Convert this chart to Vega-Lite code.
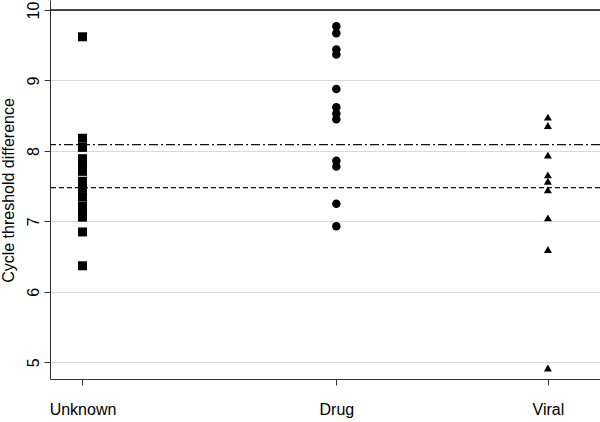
{
  "$schema": "https://vega.github.io/schema/vega-lite/v6.json",
  "width": 550,
  "height": 379,
  "autosize": {"type": "none"},
  "padding": {"left": 50, "top": 0, "right": 0, "bottom": 43},
  "background": "white",
  "config": {"view": {"stroke": null}, "font": "Liberation Sans"},
  "datasets": {
    "points": [
      {"group": "Unknown", "ct_diff": 9.62},
      {"group": "Unknown", "ct_diff": 8.18},
      {"group": "Unknown", "ct_diff": 8.05},
      {"group": "Unknown", "ct_diff": 7.89},
      {"group": "Unknown", "ct_diff": 7.82},
      {"group": "Unknown", "ct_diff": 7.75},
      {"group": "Unknown", "ct_diff": 7.71},
      {"group": "Unknown", "ct_diff": 7.57},
      {"group": "Unknown", "ct_diff": 7.52},
      {"group": "Unknown", "ct_diff": 7.47},
      {"group": "Unknown", "ct_diff": 7.35},
      {"group": "Unknown", "ct_diff": 7.22},
      {"group": "Unknown", "ct_diff": 7.16},
      {"group": "Unknown", "ct_diff": 7.06},
      {"group": "Unknown", "ct_diff": 6.85},
      {"group": "Unknown", "ct_diff": 6.37},
      {"group": "Drug", "ct_diff": 9.77},
      {"group": "Drug", "ct_diff": 9.67},
      {"group": "Drug", "ct_diff": 9.44},
      {"group": "Drug", "ct_diff": 9.37},
      {"group": "Drug", "ct_diff": 8.88},
      {"group": "Drug", "ct_diff": 8.62},
      {"group": "Drug", "ct_diff": 8.53},
      {"group": "Drug", "ct_diff": 8.45},
      {"group": "Drug", "ct_diff": 7.86},
      {"group": "Drug", "ct_diff": 7.78},
      {"group": "Drug", "ct_diff": 7.25},
      {"group": "Drug", "ct_diff": 6.93},
      {"group": "Viral", "ct_diff": 8.48},
      {"group": "Viral", "ct_diff": 8.36},
      {"group": "Viral", "ct_diff": 7.94},
      {"group": "Viral", "ct_diff": 7.66},
      {"group": "Viral", "ct_diff": 7.57},
      {"group": "Viral", "ct_diff": 7.45},
      {"group": "Viral", "ct_diff": 7.05},
      {"group": "Viral", "ct_diff": 6.6},
      {"group": "Viral", "ct_diff": 4.92}
    ],
    "lines": [
      {"line": "upper", "value": 10},
      {"line": "dashdot", "value": 8.09},
      {"line": "dashed", "value": 7.48}
    ]
  },
  "layer": [
    {
      "data": {"name": "lines"},
      "mark": {"type": "rule", "strokeWidth": 1.3, "color": "#111111"},
      "encoding": {
        "y": {
          "field": "value",
          "type": "quantitative",
          "title": "Cycle threshold difference",
          "scale": {"domain": [4.763, 10.142], "nice": false, "zero": false},
          "axis": {
            "values": [5, 6, 7, 8, 9, 10],
            "format": "d",
            "labelAngle": -90,
            "labelAlign": "center",
            "labelBaseline": "bottom",
            "labelFontSize": 16,
            "labelColor": "black",
            "labelPadding": 3,
            "labelFlush": false,
            "labelOverlap": false,
            "tickSize": 6,
            "tickColor": "#333333",
            "domainColor": "#333333",
            "grid": true,
            "gridColor": "#d9d9d9",
            "gridWidth": 1,
            "titleFontSize": 16,
            "titleFontWeight": "normal",
            "titleColor": "black",
            "titleAngle": -90,
            "titleAlign": "center",
            "titleBaseline": "middle",
            "titleX": -42,
            "titleY": 190
          }
        },
        "strokeDash": {
          "field": "line",
          "type": "nominal",
          "scale": {"domain": ["upper", "dashdot", "dashed"], "range": [[1, 0], [9, 3, 2, 3], [5, 3]]},
          "legend": null
        },
        "strokeWidth": {
          "field": "line",
          "type": "nominal",
          "scale": {"domain": ["upper", "dashdot", "dashed"], "range": [2, 1.3, 1.3]},
          "legend": null
        }
      }
    },
    {
      "data": {"name": "points"},
      "mark": {"type": "point", "filled": true, "opacity": 1, "color": "black", "strokeWidth": 0},
      "encoding": {
        "x": {
          "field": "group",
          "type": "nominal",
          "title": null,
          "scale": {
            "type": "point",
            "domain": ["Unknown", "p1", "p2", "p3", "p4", "p5", "Drug", "p6", "p7", "p8", "p9", "Viral"],
            "padding": 2.207,
            "align": 0.384
          },
          "axis": {
            "values": ["Unknown", "Drug", "Viral"],
            "labelAngle": 0,
            "labelFontSize": 16,
            "labelColor": "black",
            "labelPadding": 16,
            "tickSize": 6,
            "tickColor": "#333333",
            "domainColor": "#333333",
            "grid": false
          }
        },
        "y": {"field": "ct_diff", "type": "quantitative", "title": "Cycle threshold difference"},
        "shape": {
          "field": "group",
          "type": "nominal",
          "scale": {"domain": ["Unknown", "Drug", "Viral"], "range": ["square", "circle", "triangle-up"]},
          "legend": null
        },
        "size": {
          "field": "group",
          "type": "nominal",
          "scale": {"domain": ["Unknown", "Drug", "Viral"], "range": [81, 64, 70]},
          "legend": null
        }
      }
    }
  ]
}
